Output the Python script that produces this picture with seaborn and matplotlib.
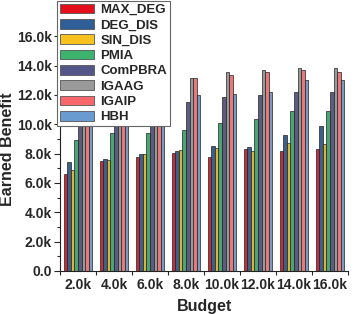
import numpy as np
import pandas as pd
import seaborn as sns
from matplotlib import pyplot as plt
from matplotlib.ticker import MultipleLocator, FixedLocator, FuncFormatter

budgets = ['2.0k', '4.0k', '6.0k', '8.0k', '10.0k', '12.0k', '14.0k', '16.0k']
methods = ['MAX_DEG', 'DEG_DIS', 'SIN_DIS', 'PMIA', 'ComPBRA', 'IGAAG', 'IGAIP', 'HBH']

max_deg = [6600, 7490, 7790, 8060, 7790, 8330, 8200, 8330]
deg_dis = [7420, 7670, 7950, 8200, 8500, 8470, 9290, 9870]
sin_dis = [6860, 7540, 7950, 8220, 8370, 8200, 8700, 8650]
pmia = [8920, 9380, 9440, 9580, 10060, 10370, 10880, 10880]
compbra = [10500, 10900, 11370, 11550, 11830, 11970, 12190, 12190]
igaag = [12200, 12700, 13000, 13140, 13600, 13690, 13830, 13870]
igaip = [12400, 12900, 13140, 13140, 13330, 13600, 13690, 13550]
hbh = [10700, 11100, 11600, 12000, 12100, 12190, 13000, 13000]

colors = ['#e3101b', '#2f5f96', '#f7c11e', '#3cb46e', '#55558a', '#9a9a9a', '#f8676b', '#6a9bd0']

series = [max_deg, deg_dis, sin_dis, pmia, compbra, igaag, igaip, hbh]
df = pd.DataFrame({
    'Budget': budgets * len(methods),
    'Method': [m for m in methods for _ in budgets],
    'Benefit': [v for s in series for v in s],
})

sns.set_style('ticks')
plt.rcParams['font.family'] = ['Liberation Sans', 'DejaVu Sans']
plt.rcParams['font.weight'] = 'bold'

fig = plt.figure(figsize=(3.54, 3.14), dpi=100)
ax = fig.add_axes([60/354, 1-271/314, 288/354, 264/314])

sns.barplot(data=df, x='Budget', y='Benefit', hue='Method', palette=colors,
            width=0.8, edgecolor='#222222', linewidth=0.5, ax=ax)

ax.set_ylim(0, 18000)
ax.set_xlim(-0.5, 7.5)
ax.yaxis.set_major_locator(FixedLocator(np.arange(0, 16001, 2000)))
ax.yaxis.set_minor_locator(MultipleLocator(1000))
ax.yaxis.set_major_formatter(FuncFormatter(lambda v, p: '0.0' if v == 0 else f'{v/1000:.1f}k'))
ax.xaxis.set_minor_locator(FixedLocator(np.arange(-0.5, 7.6, 1)))
ax.tick_params(axis='x', which='major', length=0, labelsize=10, pad=5)
ax.tick_params(axis='x', which='minor', length=3, width=0.8)
ax.tick_params(axis='y', which='major', length=4, width=0.8, labelsize=10, pad=2)
ax.tick_params(axis='y', which='minor', length=2, width=0.8)
for lab in ax.get_xticklabels() + ax.get_yticklabels():
    lab.set_fontweight('bold')

ax.set_xlabel('Budget', fontsize=11.5, fontweight='bold')
ax.set_ylabel('Earned Benefit', fontsize=11.5, fontweight='bold')
ax.xaxis.set_label_coords(0.5, -0.105)
ax.yaxis.set_label_coords(-0.155, 0.46)
sns.despine(ax=ax)
for sp in ['left', 'bottom']:
    ax.spines[sp].set_linewidth(0.8)
    ax.spines[sp].set_color('#222222')

ax.legend_.remove()
handles = [plt.Rectangle((0, 0), 1, 1, facecolor=c, edgecolor='#555555', linewidth=0.6) for c in colors]
leg = fig.legend(handles, methods, loc='upper left', bbox_to_anchor=(57/354, 1-1/314),
                 frameon=True, fancybox=False, edgecolor='#666666', framealpha=1,
                 prop={'weight': 'bold', 'size': 9.5}, handlelength=2.6, handleheight=0.75,
                 labelspacing=0.22, handletextpad=0.5, borderpad=0.2, borderaxespad=0)
leg.get_frame().set_linewidth(0.8)

fig.savefig('out.png', dpi=100)
